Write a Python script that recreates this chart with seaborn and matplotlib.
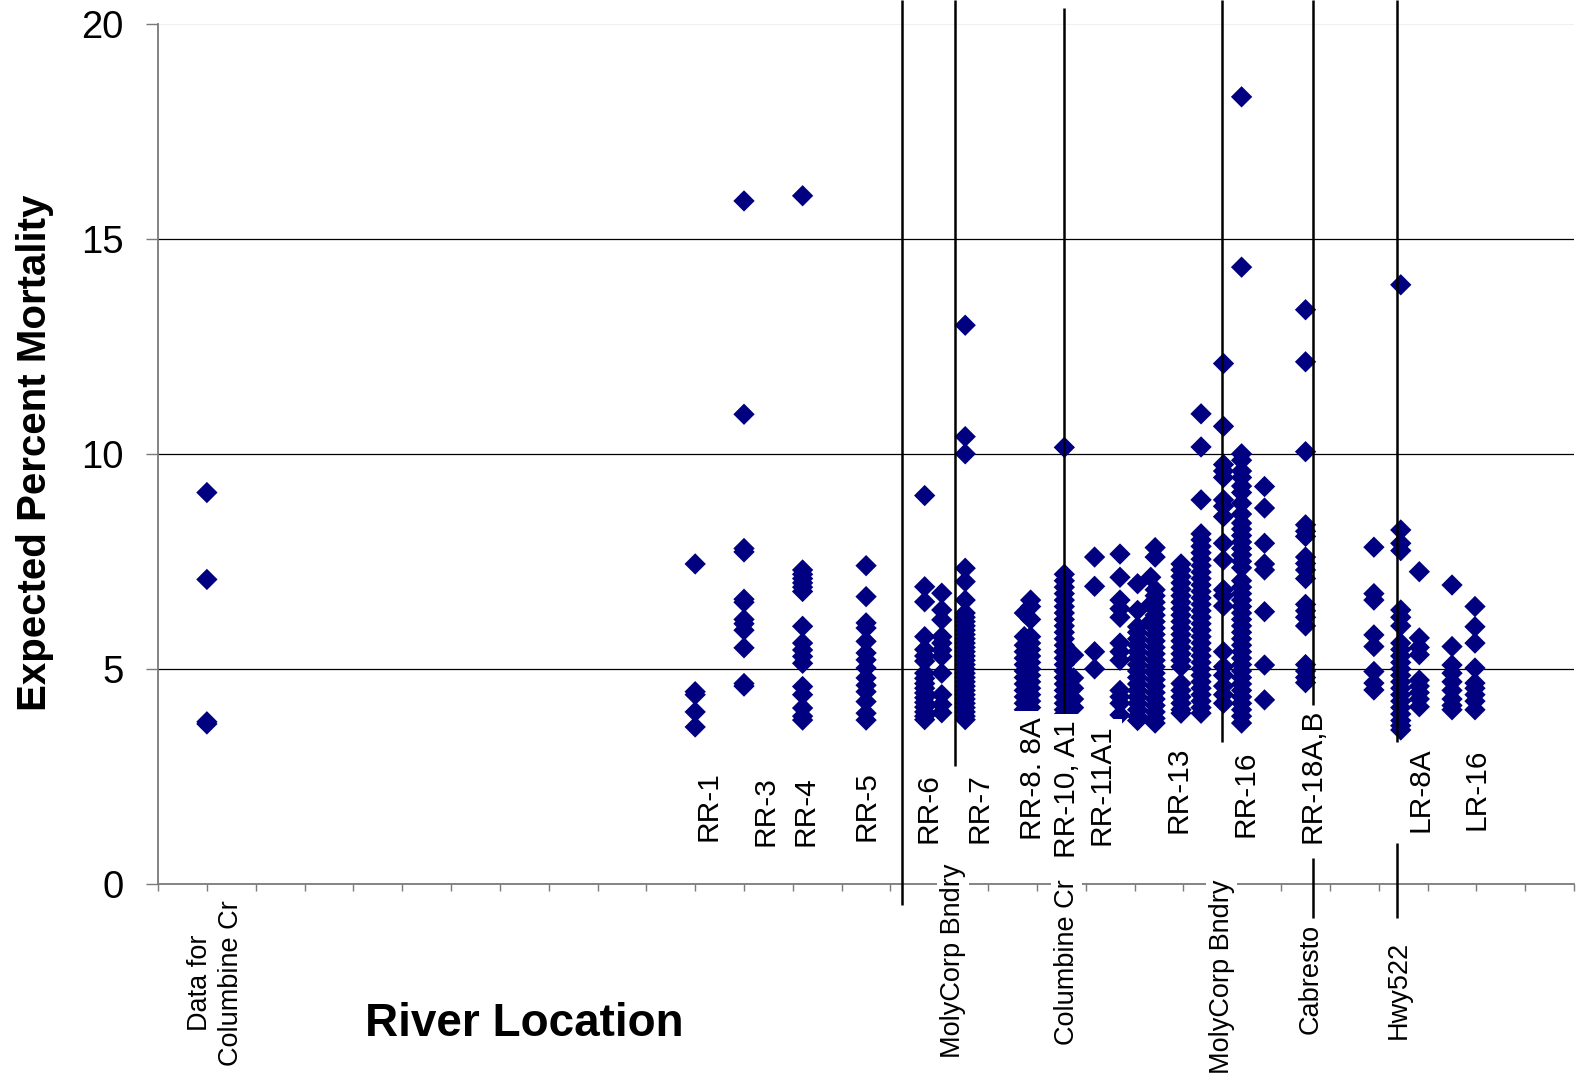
import matplotlib
matplotlib.use("Agg")
import matplotlib.pyplot as plt
import pandas as pd
import seaborn as sns

# ---------------- data ----------------
# river-location position of each sampling column (x axis units)
site_x = [1.0, 11.0, 12.0, 13.2, 14.5, 15.7, 16.05, 16.53, 17.74, 17.87,
          18.56, 18.75, 19.18, 19.7, 20.06, 20.33, 20.42, 20.95, 21.36,
          21.82, 22.19, 22.66, 23.5, 24.9, 25.45, 25.83, 26.5, 26.97]

columbine_cr = [9.1, 7.08, 3.77, 3.72]
rr1 = [7.44, 4.47, 4.4, 4.0, 3.65]
rr3 = [15.88, 10.92, 7.8, 7.72, 6.62, 6.55, 6.15, 6.05, 5.9, 5.49, 4.66, 4.6]
rr4 = [16.0, 7.3, 7.2, 7.1, 7.0, 6.9, 6.8, 5.99, 5.6, 5.44, 5.29, 5.13,
       4.59, 4.4, 4.09, 3.9, 3.81]
rr5 = [7.4, 6.68, 6.07, 5.95, 5.64, 5.37, 5.21, 5.02, 4.79, 4.62, 4.47,
       4.24, 3.97, 3.81]
rr6a = [9.03, 6.91, 6.56, 5.75, 5.45, 5.3, 5.18, 4.9, 4.78, 4.66, 4.55,
        4.44, 4.33, 4.22, 4.11, 4.0, 3.9, 3.82]
rr6b = [6.76, 6.37, 6.14, 5.75, 5.6, 5.44, 5.29, 4.9, 4.4, 4.17, 3.98]
rr7 = [12.99, 10.4, 10.0, 7.34, 7.03, 6.6, 6.3, 6.2, 6.1, 6.0, 5.9, 5.8,
       5.7, 5.6, 5.5, 5.4, 5.3, 5.2, 5.1, 5.0, 4.9, 4.8, 4.7, 4.6, 4.5,
       4.4, 4.3, 4.2, 4.1, 4.0, 3.9, 3.82]
rr8a = [6.3, 5.75, 5.55, 5.4, 5.25, 5.1, 4.95, 4.8, 4.65, 4.5, 4.35, 4.2,
        4.05, 3.95]
rr8b = [6.6, 6.45, 6.15, 5.75, 5.6, 5.45, 5.3, 5.15, 5.0, 4.85, 4.7, 4.55,
        4.4, 4.25, 4.1, 3.95]
rr10a = [10.15, 7.2, 7.05, 6.9, 6.75, 6.6, 6.45, 6.3, 6.15, 6.0, 5.85, 5.7,
         5.55, 5.4, 5.25, 5.1, 4.95, 4.8, 4.65, 4.5, 4.35, 4.2, 4.05, 3.95]
rr10b = [5.32, 4.79, 4.55, 4.3, 4.1]
rr11 = [7.6, 6.92, 5.4, 5.0]
rr11b = [7.67, 7.13, 6.6, 6.4, 6.2, 5.6, 5.4, 5.2, 4.5, 4.35, 4.2, 3.93]
rr12a = [6.98, 6.36, 5.98, 5.85, 5.7, 5.55, 5.4, 5.25, 5.1, 4.95, 4.8, 4.65,
         4.5, 4.35, 4.2, 4.05, 3.9, 3.8]
rr12b = [7.13, 6.5, 6.1]
rr12c = [7.82, 7.6, 6.84, 6.7, 6.55, 6.4, 6.25, 6.1, 5.95, 5.8, 5.65, 5.5,
         5.35, 5.2, 5.05, 4.9, 4.75, 4.6, 4.45, 4.3, 4.15, 4.0, 3.85, 3.74]
rr13 = [7.44, 7.3, 7.15, 7.0, 6.85, 6.7, 6.55, 6.4, 6.25, 6.1, 5.95, 5.8,
        5.65, 5.5, 5.35, 5.2, 5.05, 4.66, 4.5, 4.35, 4.2, 4.05, 3.97]
rr14 = [10.93, 10.16, 8.93, 8.14, 8.0, 7.85, 7.7, 7.55, 7.4, 7.25, 7.1, 6.95,
        6.8, 6.65, 6.5, 6.35, 6.2, 6.05, 5.9, 5.75, 5.6, 5.45, 5.3, 5.15,
        5.0, 4.85, 4.7, 4.55, 4.4, 4.25, 4.1, 3.97]
rr15 = [12.1, 10.64, 9.75, 9.6, 9.45, 8.93, 8.78, 8.54, 7.92, 7.53, 6.84,
        6.7, 6.46, 5.4, 5.05, 4.85, 4.6, 4.4, 4.2]
rr16 = [18.3, 14.34, 10.0, 9.85, 9.6, 9.45, 9.25, 9.1, 8.85, 8.6, 8.39, 8.25,
        8.1, 7.95, 7.8, 7.65, 7.5, 7.35, 7.05, 6.9, 6.75, 6.6, 6.45, 6.3,
        6.15, 6.0, 5.85, 5.7, 5.55, 5.4, 5.25, 5.1, 4.95, 4.8, 4.65, 4.5,
        4.35, 4.2, 4.05, 3.9, 3.74]
rr17 = [9.24, 8.74, 7.92, 7.44, 7.3, 6.33, 5.09, 4.28]
rr18 = [13.35, 12.14, 10.05, 8.35, 8.2, 8.08, 7.6, 7.45, 7.3, 7.1, 6.5, 6.35,
        6.2, 6.0, 5.1, 4.95, 4.8, 4.68]
lr4 = [7.83, 6.75, 6.6, 5.79, 5.52, 4.94, 4.67, 4.51]
lr8a = [13.93, 8.23, 7.92, 7.75, 6.37, 6.2, 6.0, 5.6, 5.45, 5.3, 5.15, 5.0,
        4.85, 4.7, 4.55, 4.4, 4.25, 4.1, 3.95, 3.8, 3.68, 3.58]
lr10 = [7.26, 5.72, 5.5, 5.33, 4.74, 4.6, 4.45, 4.3, 4.12]
lr12 = [6.95, 5.52, 5.09, 4.9, 4.7, 4.5, 4.3, 4.15, 4.05]
lr16 = [6.45, 5.98, 5.6, 5.02, 4.67, 4.55, 4.4, 4.25, 4.05]

site_values = [columbine_cr, rr1, rr3, rr4, rr5, rr6a, rr6b, rr7, rr8a, rr8b,
               rr10a, rr10b, rr11, rr11b, rr12a, rr12b, rr12c, rr13, rr14,
               rr15, rr16, rr17, rr18, lr4, lr8a, lr10, lr12, lr16]

# station labels inside the plot
station_labels = ["RR-1", "RR-3", "RR-4", "RR-5", "RR-6", "RR-7", "RR-8. 8A",
                  "RR-10, A1", "RR-11A1", "RR-13", "RR-16", "RR-18A,B",
                  "LR-8A", "LR-16"]
station_label_x = [11.28, 12.43, 13.26, 14.5, 15.77, 16.83, 17.92, 18.61,
                   19.33, 20.89, 22.28, 23.65, 25.86, 27.01]
station_label_y = [1.0, 0.88, 0.88, 1.0, 0.95, 0.95, 1.02, 0.6, 0.9, 1.19,
                   1.09, 0.95, 1.2, 1.26]

# landmark labels below the axis
landmark_labels = ["Data for\nColumbine Cr", "MolyCorp Bndry", "Columbine Cr",
                   "MolyCorp Bndry", "Cabresto", "Hwy522"]
landmark_x = [1.18, 16.28, 18.61, 21.78, 23.6, 25.4]
landmark_y = [-2.3, -1.79, -1.81, -2.15, -2.21, -2.47]

# boundary lines: x position and visible (bottom, top) pieces
boundary_x = [15.23, 16.32, 18.56, 21.79, 23.65, 25.38]
boundary_pieces = [[(-0.49, 20.55)],
                   [(2.74, 20.55)],
                   [(3.97, 20.37)],
                   [(3.31, 20.55)],
                   [(-0.79, 0.6), (4.16, 20.55)],
                   [(-0.79, 0.95), (3.31, 20.55)]]

# ---------------- build table ----------------
rows = []
for xv, vals in zip(site_x, site_values):
    for v in vals:
        rows.append({"location": xv, "mortality": v})
df = pd.DataFrame(rows)

# ---------------- plot ----------------
sns.set_theme(style="white")
plt.rcParams["font.family"] = ["Liberation Sans", "DejaVu Sans"]
plt.rcParams["text.color"] = "black"
plt.rcParams["axes.labelcolor"] = "black"
plt.rcParams["xtick.labelcolor"] = "black"
plt.rcParams["ytick.labelcolor"] = "black"

fig = plt.figure(figsize=(15.79, 10.78), dpi=100)
ax = fig.add_axes([0.1001, 0.18, 0.8968, 0.798])

sns.scatterplot(data=df, x="location", y="mortality", marker="D", s=118,
                color="#000080", edgecolor="none", linewidth=0, ax=ax,
                zorder=3, legend=False)

ax.set_xlim(0, 29)
ax.set_ylim(0, 20)
ax.set_xticks(range(0, 30))
ax.set_xticklabels([])
ax.set_yticks([0, 5, 10, 15, 20])
ax.set_yticklabels(["0", "5", "10", "15", "20"], fontsize=27.5, color="black")
ax.set_xlabel("")
ax.set_ylabel("")

for v in [5, 10, 15]:
    ax.axhline(v, color="black", lw=0.9, zorder=1)
ax.axhline(20, color="#f0f0f0", lw=0.8, zorder=1)

for side in ["top", "right"]:
    ax.spines[side].set_visible(False)
for side in ["left", "bottom"]:
    ax.spines[side].set_color("#7a7a7a")
    ax.spines[side].set_linewidth(1.3)

ax.tick_params(axis="y", direction="out", length=8.6, width=1.0,
               color="#7a7a7a", pad=16, left=True, labelcolor="black")
ax.tick_params(axis="x", direction="out", length=5, width=1.0,
               color="#7a7a7a", bottom=True)

# station labels with white boxes
for lab, lx, ly in zip(station_labels, station_label_x, station_label_y):
    ax.text(lx, ly, lab, rotation=90, ha="center", va="bottom",
            fontsize=21.5, color="black", zorder=4,
            bbox=dict(boxstyle="square,pad=0.2", fc="white", ec="none"))

# landmark labels below axis
for lab, lx, ly in zip(landmark_labels, landmark_x, landmark_y):
    ax.text(lx, ly, lab, rotation=90, ha="center", va="center",
            multialignment="center", fontsize=19.5, color="black",
            zorder=4, clip_on=False, linespacing=1.25,
            bbox=dict(boxstyle="square,pad=0.1", fc="white", ec="none"))

# boundary lines
for bx, pieces in zip(boundary_x, boundary_pieces):
    for lo, hi in pieces:
        ax.plot([bx, bx], [lo, hi], color="black", lw=1.8, zorder=5,
                clip_on=False, solid_capstyle="butt")

fig.text(0.332, 0.05, "River Location", fontsize=33, fontweight="bold",
         ha="center", va="center", color="black")
fig.text(0.022, 0.58, "Expected Percent Mortality", fontsize=29,
         fontweight="bold", rotation=90, ha="center", va="center",
         color="black")

fig.savefig("out.png", dpi=100, facecolor="white")
